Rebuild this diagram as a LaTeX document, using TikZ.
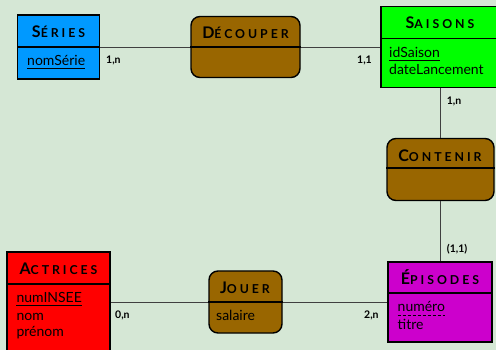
\documentclass[tikz,border=0pt]{standalone}
\usepackage{fontspec}
\setmainfont{Lato}
\newfontfamily\headfont[LetterSpace=24]{Lato}
\usetikzlibrary{positioning}

\definecolor{bgcol}{HTML}{D5E7D5}
\definecolor{serieblue}{HTML}{0099FF}
\definecolor{saisongreen}{HTML}{00FF00}
\definecolor{episodemag}{HTML}{CC00CC}
\definecolor{actricered}{HTML}{FF0000}
\definecolor{assocbrown}{HTML}{996600}
\definecolor{linkgrey}{HTML}{404040}

% fake small caps for the box titles
\newcommand\smc[2]{{\fontsize{16}{16}\selectfont #1}{\fontsize{12.3}{12.3}\selectfont #2}}

\begin{document}
\begin{tikzpicture}[x=1pt,y=-1pt,
    entity/.style={draw=black, line width=1.4pt, inner sep=0pt},
    assoc/.style={draw=black, line width=1.4pt, inner sep=0pt, fill=assocbrown, rounded corners=9pt},
    title/.style={font=\headfont\bfseries, inner sep=0pt, anchor=base},
    attr/.style={font=\fontsize{14}{17}\selectfont, inner sep=0pt, anchor=base west},
    card/.style={font=\fontsize{10.5}{12}\selectfont\bfseries, inner sep=0pt, anchor=base west},
    link/.style={draw=linkgrey, line width=0.9pt}]
    \clip (0,0) rectangle (496,350);
    \fill[bgcol] (0,0) rectangle (496,350);

    % entities and associations
    \node[entity, fill=serieblue, minimum width=81.6pt, minimum height=64pt] (series) at (58.5,47) {};
    \node[assoc, minimum width=109pt, minimum height=61pt] (decouper) at (245.5,47) {};
    \node[entity, fill=saisongreen, minimum width=116pt, minimum height=80.6pt] (saisons) at (439,47) {};
    \node[assoc, minimum width=107pt, minimum height=62pt] (contenir) at (440.5,169.5) {};
    \node[entity, fill=episodemag, minimum width=104pt, minimum height=80pt] (episodes) at (440,302) {};
    \node[assoc, minimum width=73pt, minimum height=62pt] (jouer) at (245.5,302) {};
    \node[entity, fill=actricered, minimum width=103pt, minimum height=100pt] (actrices) at (58.5,302) {};

    % dividers
    \draw[line width=1.4pt] (series.west) -- (series.east);
    \draw[line width=1.4pt] (decouper.west) -- (decouper.east);
    \draw[line width=1.4pt] ([yshift=8.7pt]saisons.west) -- ([yshift=8.7pt]saisons.east);
    \draw[line width=1.4pt] ([yshift=1.5pt]contenir.west) -- ([yshift=1.5pt]contenir.east);
    \draw[line width=1.4pt] ([yshift=9pt]episodes.west) -- ([yshift=9pt]episodes.east);
    \draw[line width=1.4pt] (jouer.west) -- (jouer.east);
    \draw[line width=1.4pt] ([yshift=18pt]actrices.west) -- ([yshift=18pt]actrices.east);

    % links
    \draw[link] (series.east) -- (decouper.west);
    \draw[link] (decouper.east) -- (saisons.west);
    \draw[link] (contenir.north |- saisons.south) -- (contenir.north);
    \draw[link] (contenir.south) -- (contenir.south |- episodes.north);
    \draw[link] (actrices.east) -- (jouer.west);
    \draw[link] (jouer.east) -- (episodes.west);

    % titles
    \node[title] (tseries) at (58.5,37.7) {\smc{S}{ÉRIES}};
    \node[title] (tdecouper) at (245.5,38.3) {\smc{D}{ÉCOUPER}};
    \node[title] (tsaisons) at (440,29) {\smc{S}{AISONS}};
    \node[title] (tcontenir) at (440,161.7) {\smc{C}{ONTENIR}};
    \node[title] (tepisodes) at (440,284) {\smc{É}{PISODES}};
    \node[title] (tjouer) at (245,293.7) {\smc{J}{OUER}};
    \node[title] (tactrices) at (58.5,275) {\smc{A}{CTRICES}};

    % attributes
    \node[attr] (nomserie) at (27,65.3) {nomSérie};
    \node[attr] (idsaison) at (389,57.3) {idSaison};
    \node[attr] (datelanc) at (389,75) {dateLancement};
    \node[attr] (numero) at (397.5,312) {numéro};
    \node[attr] (titre) at (397.5,330) {titre};
    \node[attr] (salaire) at (216,320) {salaire};
    \node[attr] (numinsee) at (16.3,302) {numINSEE};
    \node[attr] (nom) at (16.3,320) {nom};
    \node[attr] (prenom) at (16.3,337) {prénom};

    % identifiers
    \draw[line width=0.9pt] ([yshift=-3pt]nomserie.base west) -- ([yshift=-3pt]nomserie.base east);
    \draw[line width=0.9pt] ([yshift=-3pt]idsaison.base west) -- ([yshift=-3pt]idsaison.base east);
    \draw[line width=0.9pt] ([yshift=-3pt]numinsee.base west) -- ([yshift=-3pt]numinsee.base east);
    \draw[line width=0.7pt, dash pattern=on 3pt off 2pt] ([yshift=-3pt]numero.base west) -- ([yshift=-3pt]numero.base east);

    % cardinalities
    \node[card] (c1) at (106,63.3) {1,n};
    \node[card] (c2) at (357,63.3) {1,1};
    \node[card] (c3) at (446.7,104.3) {1,n};
    \node[card] (c4) at (446.7,253) {(1,1)};
    \node[card] (c5) at (115,319) {0,n};
    \node[card] (c6) at (364,318) {2,n};
\end{tikzpicture}
\end{document}
